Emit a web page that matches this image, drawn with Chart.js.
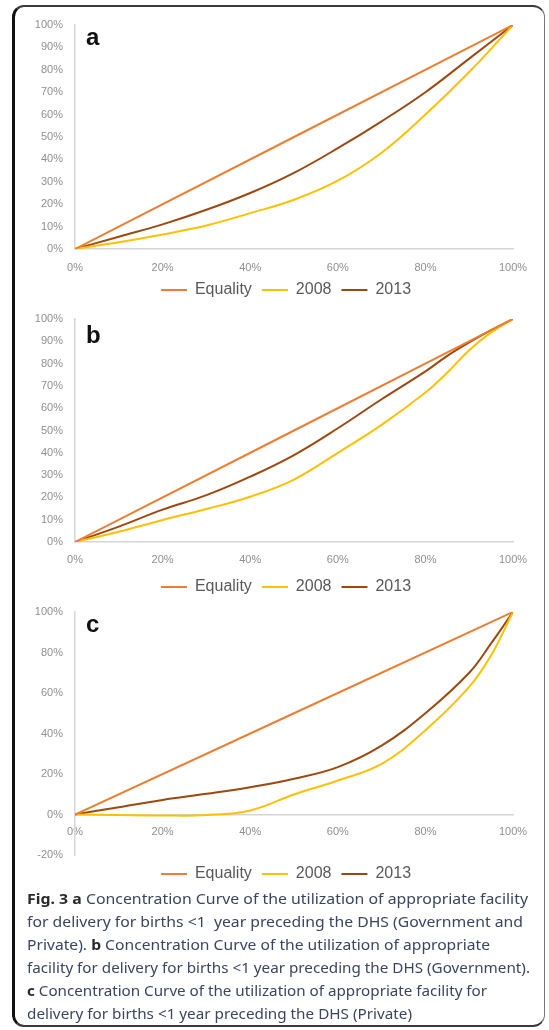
<!DOCTYPE html>
<html>
<head>
<meta charset="utf-8">
<script src="https://cdn.jsdelivr.net/npm/chart.js@4.4.1/dist/chart.umd.min.js"></script>
<style>
  html, body { margin: 0; padding: 0; background: #fff; }
  body { width: 549px; height: 1030px; position: relative; overflow: hidden; font-family: "Liberation Sans", Arial, sans-serif; }
  .frame { position: absolute; left: 12px; top: 5px; width: 533px; height: 1022px; box-sizing: border-box;
           border: 2px solid #3a3a3a; border-left: 3px solid #111; border-right: 1.5px solid #777; border-radius: 12px; }
  .panel { position: absolute; left: 0; width: 572px; }
  .panel canvas { display: block; }
  .tag { position: absolute; left: 86px; font: bold 24px "Liberation Sans", Arial, sans-serif; line-height: 24px; color: #111; }
  .caption { position: absolute; left: 27px; top: 887px; font: 15px "Noto Sans", "Open Sans", sans-serif; line-height: 23px; color: #3b4560; }
  .caption div { white-space: nowrap; transform-origin: 0 50%; width: max-content; }
  .caption b { color: #2a2a2a; }
</style>
</head>
<body>
<div class="frame"></div>

<div class="panel" style="top:10px;height:298px"><canvas id="chartA" width="572" height="298"></canvas></div>
<div class="panel" style="top:300px;height:305px"><canvas id="chartB" width="572" height="305"></canvas></div>
<div class="panel" style="top:600px;height:292px"><canvas id="chartC" width="572" height="292"></canvas></div>

<div class="tag" style="top:25px">a</div>
<div class="tag" style="top:323px">b</div>
<div class="tag" style="top:612px">c</div>

<div class="caption" id="caption">
  <div><b>Fig. 3</b> <b>a</b> Concentration Curve of the utilization of appropriate facility</div>
  <div>for delivery for births &lt;1&nbsp; year preceding the DHS (Government and</div>
  <div>Private). <b>b</b> Concentration Curve of the utilization of appropriate</div>
  <div>facility for delivery for births &lt;1 year preceding the DHS (Government).</div>
  <div><b>c</b> Concentration Curve of the utilization of appropriate facility for</div>
  <div>delivery for births &lt;1 year preceding the DHS (Private)</div>
</div>

<script>
// Cumulative % of births ranked by wealth (x) and cumulative % of facility deliveries (y)
const seriesNames = ['Equality', '2008', '2013'];
const xTickValues = [0, 20, 40, 60, 80, 100];
const equalityX = [0, 100];
const equalityY = [0, 100];

// a: Government and Private
const popShareA = [0, 10, 20, 30, 40, 50, 60, 70, 80, 90, 100];
const govPrivate2008 = [0, 3, 6.5, 10.5, 16, 22, 30.5, 43, 60, 79, 100];
const govPrivate2013 = [0, 5.5, 11, 17.5, 25, 34, 45, 57, 70, 85, 100];

// b: Government
const popShareB = [0, 10, 20, 30, 40, 50, 60, 70, 80, 85, 90, 95, 100];
const gov2008 = [0, 4.6, 9.9, 14.8, 20.3, 28, 40, 52.5, 67, 76, 86, 94, 100];
const gov2013 = [0, 6.9, 14.5, 21, 29.3, 39, 51, 64, 76.5, 83.5, 89.5, 95, 100];

// c: Private
const popShareC = [0, 10, 20, 30, 40, 50, 60, 70, 80, 90, 95, 100];
const private2008 = [0, -0.3, -0.5, -0.3, 2, 9.9, 16.8, 25, 41.6, 63, 78.6, 100];
const private2013 = [0, 3.6, 7.2, 10.2, 13.5, 17.7, 23.4, 34, 50, 70, 84.5, 100];

const COLORS = { equality: '#ED7D31', y2008: '#FFC000', y2013: '#9E480E' };
const TICK_COLOR = '#8f8f8f';
const AXIS_COLOR = '#d6d6d6';
const FONT = '"Liberation Sans", Arial, sans-serif';

function pts(xs, ys) { return xs.map((x, i) => ({ x: x, y: ys[i] })); }

function lineSet(label, xs, ys, color) {
  return {
    label: label,
    data: pts(xs, ys),
    borderColor: color,
    backgroundColor: color,
    borderWidth: 2,
    pointRadius: 0,
    showLine: true,
    fill: false,
    tension: 0.4
  };
}

function buildChart(id, xs, y2008, y2013, cfg) {
  return new Chart(document.getElementById(id), {
    type: 'scatter',
    data: {
      datasets: [
        lineSet(seriesNames[0], equalityX, equalityY, COLORS.equality),
        lineSet(seriesNames[1], xs, y2008, COLORS.y2008),
        lineSet(seriesNames[2], xs, y2013, COLORS.y2013)
      ]
    },
    options: {
      responsive: false,
      animation: false,
      devicePixelRatio: 1,
      layout: { padding: { left: 0, right: 0, top: cfg.padTop, bottom: 0 } },
      scales: {
        x: {
          type: 'linear',
          position: cfg.xPosition,
          min: 0, max: 100,
          afterBuildTicks: s => { s.ticks = xTickValues.map(v => ({ value: v })); },
          afterFit: s => { s.height = cfg.xHeight; s.paddingLeft = 0; s.paddingRight = 59; },
          grid: { display: false, drawTicks: false },
          border: { display: true, color: AXIS_COLOR, width: 1.5 },
          ticks: {
            padding: cfg.xPad, color: TICK_COLOR, maxRotation: 0, autoSkip: false,
            font: { family: FONT, size: 11 },
            callback: v => v + '%'
          }
        },
        y: {
          type: 'linear',
          min: cfg.yMin, max: 100,
          afterBuildTicks: s => { s.ticks = cfg.yTicks.map(v => ({ value: v })); },
          afterFit: s => { s.width = 75; s.paddingTop = 0; s.paddingBottom = 0; },
          grid: { display: false, drawTicks: false },
          border: { display: true, color: AXIS_COLOR, width: 1.5 },
          ticks: {
            padding: 12, color: TICK_COLOR, autoSkip: false,
            font: { family: FONT, size: 11 },
            callback: v => v + '%'
          }
        }
      },
      plugins: {
        tooltip: { enabled: false },
        legend: {
          position: 'bottom',
          title: { display: cfg.legendGap > 0, text: '', font: { size: 0 }, padding: { top: cfg.legendGap, bottom: 0 } },
          labels: {
            usePointStyle: true,
            pointStyle: 'line',
            pointStyleWidth: 26,
            padding: 10,
            color: '#595959',
            font: { family: FONT, size: 16 }
          }
        }
      }
    }
  });
}

const tenSteps = [0, 10, 20, 30, 40, 50, 60, 70, 80, 90, 100];
const twentySteps = [-20, 0, 20, 40, 60, 80, 100];

buildChart('chartA', popShareA, govPrivate2008, govPrivate2013,
  { padTop: 15, xHeight: 23, xPad: 12, xPosition: 'bottom', legendGap: 0, yMin: 0, yTicks: tenSteps });
buildChart('chartB', popShareB, gov2008, gov2013,
  { padTop: 19, xHeight: 27, xPad: 11, xPosition: 'bottom', legendGap: 0, yMin: 0, yTicks: tenSteps });
buildChart('chartC', popShareC, private2008, private2013,
  { padTop: 12, xHeight: 0, xPad: 11, xPosition: { y: 0 }, legendGap: 1, yMin: -20, yTicks: twentySteps });

// Fit each caption line to the column width it occupies
const captionWidths = [501, 496, 463, 503, 460, 385];
document.querySelectorAll('#caption div').forEach((line, i) => {
  const w = line.getBoundingClientRect().width;
  line.style.transform = 'scaleX(' + (captionWidths[i] / w).toFixed(4) + ')';
});
</script>
</body>
</html>
